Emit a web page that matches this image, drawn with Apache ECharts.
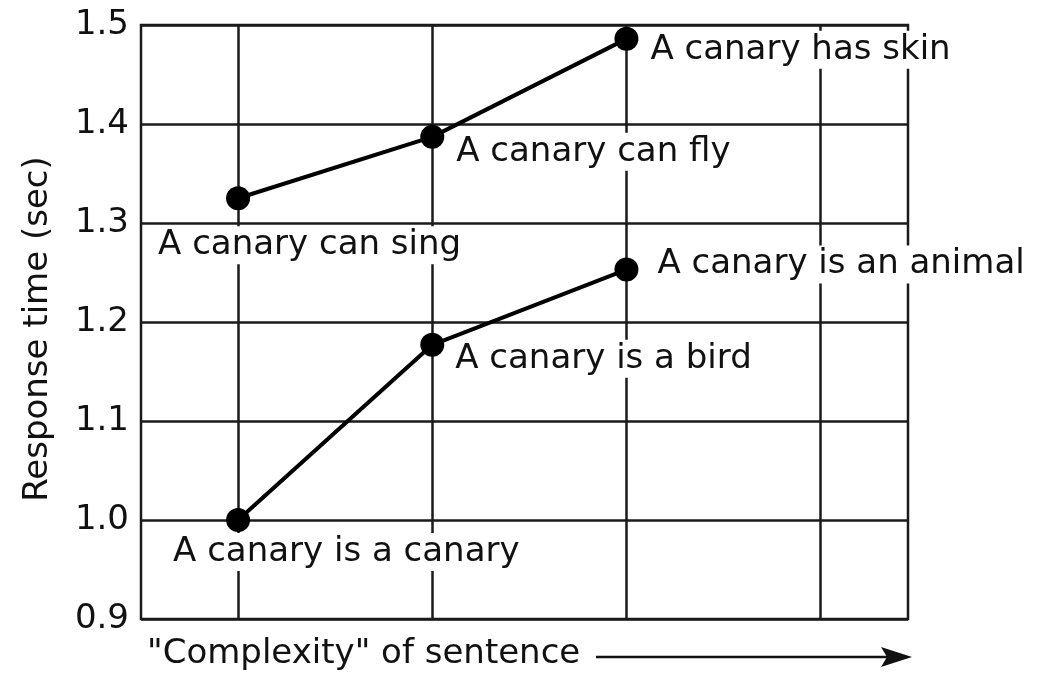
<!DOCTYPE html>
<html>
<head>
<meta charset="utf-8">
<script src="https://cdn.jsdelivr.net/npm/echarts@6/dist/echarts.min.js"></script>
<style>html,body{margin:0;padding:0;background:#fff}#c{width:1040px;height:676px}</style>
</head>
<body>
<div id="c"></div>
<script>
// ---- data ----
const complexity = [1, 2, 3];
const propertyRT = [1.325, 1.387, 1.486];
const propertyLabels = ['A canary can sing', 'A canary can fly', 'A canary has skin'];
const categoryRT = [1.0, 1.177, 1.253];
const categoryLabels = ['A canary is a canary', 'A canary is a bird', 'A canary is an animal'];
const xGridValues = [1, 2, 3, 4];
const yMin = 0.9, yMax = 1.5, yStep = 0.1;
const xMin = 0.5, xMax = 4.45;
const yAxisTitle = 'Response time (sec)';
const xAxisTitle = '"Complexity" of sentence';

// ---- styles ----
const FONT = 'DejaVu Sans';
const INK = '#111';
const propertyOffsets = [[-83, 47], [21, 15], [21, 11]];
const categoryOffsets = [[-68, 32], [20, 14], [28, -5]];

function pts(ys, labels, offs) {
  return complexity.map((x, i) => ({
    value: [x, ys[i]],
    label: {
      show: true, formatter: labels[i], position: 'inside',
      align: 'left', verticalAlign: 'middle', offset: offs[i],
      fontFamily: FONT, fontSize: 34, color: INK,
      backgroundColor: '#fff', padding: [2, 3]
    }
  }));
}

const lineSeries = (name, ys, labels, offs) => ({
  name, type: 'line', z: 5,
  data: pts(ys, labels, offs),
  symbol: 'circle', symbolSize: 24,
  itemStyle: { color: '#000' },
  lineStyle: { color: '#000', width: 4 },
  emphasis: { disabled: true }, animation: false
});

const chart = echarts.init(document.getElementById('c'));
chart.setOption({
  backgroundColor: '#fff',
  animation: false,
  grid: { left: 141, top: 25, right: 132, bottom: 57, show: true, borderColor: '#1a1a1a', borderWidth: 2.5, outerBoundsMode: 'none', containLabel: false },
  xAxis: {
    type: 'value', min: xMin, max: xMax,
    axisLine: { show: false }, axisTick: { show: false }, axisLabel: { show: false }, splitLine: { show: false }
  },
  yAxis: {
    type: 'value', min: yMin, max: yMax, interval: yStep,
    name: yAxisTitle, nameLocation: 'middle', nameGap: 86,
    nameTextStyle: { fontFamily: FONT, fontSize: 34, color: INK, padding: [0, 14, 0, 0] },
    axisLine: { show: false }, axisTick: { show: false },
    axisLabel: { fontFamily: FONT, fontSize: 34, color: INK, margin: 12, formatter: v => v.toFixed(1) },
    splitLine: { show: true, lineStyle: { color: '#1a1a1a', width: 2.5 } }
  },
  graphic: [
    { type: 'text', left: 147, top: 637, style: { text: xAxisTitle, fontFamily: FONT, fontSize: 34, fill: INK } },
    { type: 'line', shape: { x1: 596, y1: 657, x2: 890, y2: 657 }, style: { stroke: '#111', lineWidth: 2.5 } },
    { type: 'polygon', shape: { points: [[912, 657], [881, 647], [887, 657], [881, 667]] }, style: { fill: '#111' } }
  ],
  series: [
    {
      type: 'line', data: [], z: 1, silent: true,
      markLine: {
        silent: true, symbol: 'none', label: { show: false },
        lineStyle: { color: '#1a1a1a', width: 2.5, type: 'solid' },
        data: xGridValues.map(v => ({ xAxis: v }))
      }
    },
    lineSeries('property', propertyRT, propertyLabels, propertyOffsets),
    lineSeries('category', categoryRT, categoryLabels, categoryOffsets)
  ]
});
</script>
</body>
</html>
